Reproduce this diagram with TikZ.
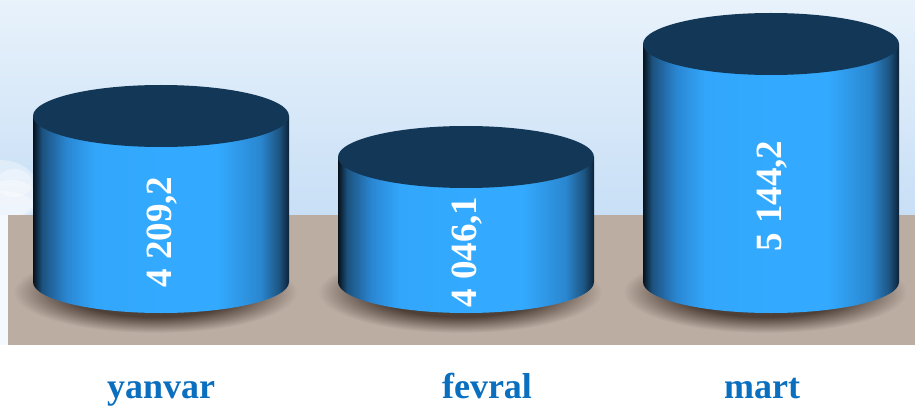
\documentclass[tikz,border=0pt]{standalone}
\usepackage{fontspec}
\setmainfont{Liberation Serif}
\usetikzlibrary{calc}
\definecolor{skytop}{HTML}{E8F2FB}
\definecolor{skybot}{HTML}{C8DFF6}
\definecolor{floorc}{HTML}{BCADA3}
\definecolor{shadowc}{HTML}{4E3F37}
\definecolor{topc}{HTML}{133756}
\definecolor{labelc}{HTML}{0B6FBF}
\definecolor{b0}{HTML}{07121D}
\definecolor{b1}{HTML}{1C527F}
\definecolor{b2}{HTML}{2A86D2}
\definecolor{b3}{HTML}{32A6FA}
\definecolor{b4}{HTML}{33AAFF}
\definecolor{b5}{HTML}{2A86CF}
\definecolor{b6}{HTML}{1D5582}
\definecolor{b7}{HTML}{0C2238}
\pgfdeclarehorizontalshading{cylbody}{100bp}{color(0bp)=(b0); color(25bp)=(b0); color(26.8bp)=(b1); color(31.5bp)=(b2); color(37bp)=(b3); color(50bp)=(b4); color(61bp)=(b4); color(69.5bp)=(b5); color(73bp)=(b6); color(75bp)=(b7); color(100bp)=(b7)}
\pgfdeclareradialshading{cylshadow}{\pgfpoint{0bp}{0bp}}{color(0bp)=(shadowc); color(15bp)=(shadowc); color(25bp)=(floorc); color(50bp)=(floorc)}
\tikzset{
  valtext/.style={text=white, font=\bfseries\fontsize{37}{37}\selectfont, rotate=90, inner sep=0pt},
  monthtext/.style={text=labelc, font=\bfseries\fontsize{36}{36}\selectfont, anchor=base, inner sep=0pt},
  topface/.style={fill=topc, draw=none},
  cloud part/.style={fill=white, opacity=0.35, draw=none},
}
% cylinder: #1 = centre x, #2 = top centre y, #3 = bottom centre y
\newcommand{\mycyl}[3]{%
  \shade[shading=cylshadow] (#1-6,#3-10) ellipse [x radius=142, y radius=41];
  \shade[shading=cylbody] (#1-128,#2) -- (#1-128,#3) arc[start angle=180, end angle=360, x radius=128, y radius=31] -- (#1+128,#2) -- cycle;
  \fill[topface] (#1,#2) ellipse [x radius=128, y radius=31];
}
\begin{document}
\begin{tikzpicture}[x=1pt,y=1pt]
\useasboundingbox (0,0) rectangle (915,405);
\clip (0,0) rectangle (915,405);
% sky
\fill[white] (0,0) rectangle (915,405);
\shade[top color=skytop, bottom color=skybot] (0,190) rectangle (915,405);
% clouds at the left edge
\fill[cloud part] (0,215) ellipse [x radius=38, y radius=30];
\fill[cloud part] (10,205) ellipse [x radius=30, y radius=20];
\fill[cloud part] (0,200) ellipse [x radius=34, y radius=14];
\fill[cloud part] (14,222) ellipse [x radius=18, y radius=14];
\fill[white!80!skybot] (0,60) rectangle (8,190);
% floor
\fill[floorc] (8,60) rectangle (915,190);
% cylinders
\mycyl{161}{289}{123}
\mycyl{466}{248}{123}
\mycyl{771}{361}{123}
% values
\node[valtext] (v1) at (162,173) {4 209,2};
\node[valtext] (v2) at (467,153) {4 046,1};
\node[valtext] (v3) at (772,209) {5 144,2};
% months
\node[monthtext] (m1) at (161,7) {yanvar};
\node[monthtext] (m2) at (487,7) {fevral};
\node[monthtext] (m3) at (762,7) {mart};
\end{tikzpicture}
\end{document}
